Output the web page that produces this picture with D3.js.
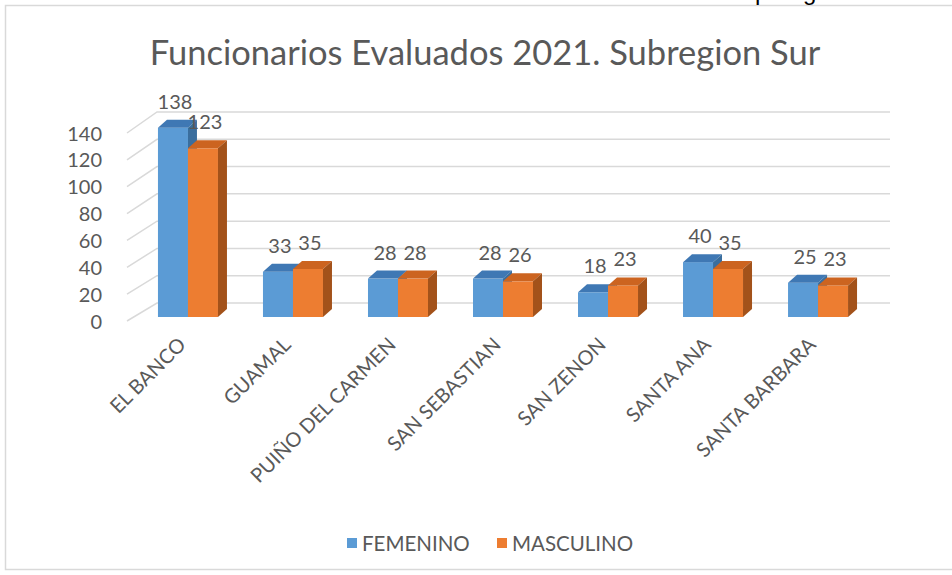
<!DOCTYPE html>
<html><head><meta charset="utf-8">
<script src="https://cdn.jsdelivr.net/npm/d3@7"></script>
<style>body{margin:0;background:#fff}svg{display:block}</style>
</head><body>
<svg id="c" width="952" height="575"></svg>
<script>
const categories = ["EL BANCO","GUAMAL","PUIÑO DEL CARMEN","SAN SEBASTIAN","SAN ZENON","SANTA ANA","SANTA BARBARA"];
const series = ["FEMENINO","MASCULINO"];
const femenino = [138,33,28,28,18,40,25];
const masculino = [123,35,28,26,23,35,23];
const yTicks = [0,20,40,60,80,100,120,140];
const title = "Funcionarios Evaluados 2021. Subregion Sur";

const font = "Lato, 'Open Sans', sans-serif";
const txt = "#595959";
const colors = {FEMENINO:{front:"#5B9BD5",top:"#3F78B4",side:"#3A6E9E"}, MASCULINO:{front:"#ED7D31",top:"#CC6420",side:"#A3521A"}};
const svg = d3.select("#c");

// frame
svg.append("rect").attr("x",5.5).attr("y",5.5).attr("width",960).attr("height",564).attr("fill","#fff").attr("stroke","#d9d9d9").attr("stroke-width",1.5);
// cropped text fragments at the very top
svg.append("text").attr("x",755).attr("y",0).attr("font-family","Arial, sans-serif").attr("font-size",24).attr("fill","#000").text("p");
svg.append("text").attr("x",803).attr("y",0).attr("font-family","Arial, sans-serif").attr("font-size",24).attr("fill","#000").text("g");

// title
svg.append("text").attr("x",485).attr("y",65).attr("text-anchor","middle").attr("font-family",font).attr("font-size",34.5).attr("fill",txt).text(title);

const yBar = d3.scaleLinear().domain([0,140]).range([317,125]);
const yBack = d3.scaleLinear().domain([0,140]).range([303,112]);
const yAxisS = d3.scaleLinear().domain([0,140]).range([321,133]);
const x = d3.scaleBand().domain(categories).range([140,866]).paddingInner(0.4286).paddingOuter(0.171);
const xs = d3.scaleBand().domain(series).range([0,x.bandwidth()]);
const DX = 9, DY = 8;

// gridlines (side wall diagonal + back wall)
const grid = svg.append("g").attr("fill","none").attr("stroke","#d9d9d9").attr("stroke-width",1.5);
yTicks.forEach(v=>{
  grid.append("path").attr("d",`M127,${yAxisS(v)}L157,${yBack(v)}L890,${yBack(v)}`);
});

// y axis labels
const ax = svg.append("g").attr("transform","translate(102,0)").call(d3.axisLeft(yAxisS).tickValues(yTicks).tickSize(0).tickPadding(0));
ax.select(".domain").remove();
ax.selectAll("text").attr("font-family",font).attr("font-size",20).attr("fill",txt).attr("dy","0.35em");

// bars
const data = categories.map((c,i)=>({c, vals:[{s:"FEMENINO",v:femenino[i]},{s:"MASCULINO",v:masculino[i]}]}));
const bars = svg.append("g");
data.forEach(d=>{
  d.vals.forEach(b=>{
    const x0 = x(d.c)+xs(b.s), w = xs.bandwidth();
    const yt = yBar(b.v), yb = yBar(0);
    const col = colors[b.s];
    bars.append("rect").attr("x",x0).attr("y",yt).attr("width",w).attr("height",yb-yt).attr("fill",col.front);
    bars.append("path").attr("d",`M${x0},${yt}L${x0+DX},${yt-DY}L${x0+w+DX},${yt-DY}L${x0+w},${yt}Z`).attr("fill",col.top);
    bars.append("path").attr("d",`M${x0+w},${yt}L${x0+w+DX},${yt-DY}L${x0+w+DX},${yb-DY}L${x0+w},${yb}Z`).attr("fill",col.side);
  });
});
// data labels
data.forEach(d=>{
  d.vals.forEach(b=>{
    const cx = x(d.c)+xs(b.s)+xs.bandwidth()/2+2;
    svg.append("text").attr("x",cx).attr("y",yBar(b.v)-19).attr("text-anchor","middle")
      .attr("font-family",font).attr("font-size",20).attr("fill",txt).text(b.v);
  });
});

// category labels
categories.forEach(c=>{
  const gx = x(c)+x.bandwidth()/2;
  svg.append("text").attr("transform",`translate(${gx-1},${346}) rotate(-45)`).attr("text-anchor","end")
    .attr("font-family",font).attr("font-size",20).attr("fill",txt).text(c);
});

// legend
const lg = svg.append("g");
const litems = [{s:"FEMENINO",x:347},{s:"MASCULINO",x:497}];
litems.forEach(l=>{
  lg.append("rect").attr("x",l.x).attr("y",538).attr("width",10).attr("height",10).attr("fill",colors[l.s].front);
  lg.append("text").attr("x",l.x+15).attr("y",551).attr("font-family",font).attr("font-size",20.5).attr("fill",txt).text(l.s);
});
</script>
</body></html>
